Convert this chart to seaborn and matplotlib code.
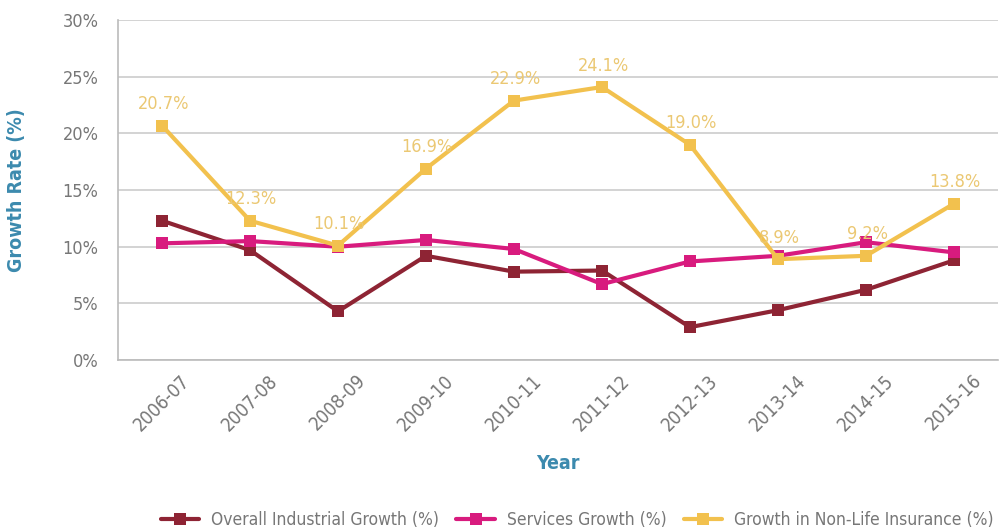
import matplotlib
matplotlib.use("Agg")
import matplotlib.pyplot as plt
import seaborn as sns
import pandas as pd
from matplotlib.ticker import FuncFormatter, MultipleLocator

years = ["2006-07", "2007-08", "2008-09", "2009-10", "2010-11",
         "2011-12", "2012-13", "2013-14", "2014-15", "2015-16"]
industrial = [12.3, 9.7, 4.3, 9.2, 7.8, 7.9, 2.9, 4.4, 6.2, 8.8]
services = [10.3, 10.5, 10.0, 10.6, 9.8, 6.7, 8.7, 9.2, 10.4, 9.5]
insurance = [20.7, 12.3, 10.1, 16.9, 22.9, 24.1, 19.0, 8.9, 9.2, 13.8]
series_names = ["Overall Industrial Growth (%)", "Services Growth (%)",
                "Growth in Non-Life Insurance (%)"]
colors = ["#8E2434", "#D81B7E", "#F2C14E"]

sns.set_theme(style="white")
plt.rcParams["font.family"] = ["DejaVu Sans"]
plt.rcParams["font.stretch"] = "condensed"

rows = []
for name, vals in zip(series_names, [industrial, services, insurance]):
    for y, v in zip(years, vals):
        rows.append({"Year": y, "Growth": v, "Series": name})
df = pd.DataFrame(rows)

fig = plt.figure(figsize=(10.04, 5.31), dpi=100)
ax = fig.add_axes([0.1175, 0.322, 0.8765, 0.640])

sns.lineplot(data=df, x="Year", y="Growth", hue="Series", style="Series",
             markers=["s", "s", "s"], dashes=False, palette=colors,
             linewidth=3, markersize=9, markeredgewidth=0, ax=ax, sort=False)

for i, v in enumerate(insurance):
    ax.annotate(f"{v:.1f}%", (i, v), xytext=(1, 9), textcoords="offset points",
                ha="center", va="bottom", color="#EBC873", fontsize=13,
                fontstretch="condensed")

ax.set_ylim(0, 30)
ax.set_xlim(-0.5, len(years) - 0.5)
ax.yaxis.set_major_locator(MultipleLocator(5))
ax.yaxis.set_major_formatter(FuncFormatter(lambda v, p: f"{v:.0f}%"))
ax.grid(axis="y", color="#CCCCCC", linewidth=1.2)
ax.set_axisbelow(True)
for s in ["top", "right"]:
    ax.spines[s].set_visible(False)
for s in ["left", "bottom"]:
    ax.spines[s].set_color("#BBBBBB")
    ax.spines[s].set_linewidth(1.2)

ax.set_xticks(range(len(years)))
ax.set_xticklabels(years, rotation=45, ha="center")
ax.set_xticks([i - 0.5 for i in range(len(years) + 1)], minor=True)
ax.tick_params(axis="x", which="major", length=0, pad=8, labelsize=13.5, labelcolor="#777777")
ax.tick_params(axis="x", which="minor", length=8, color="#BBBBBB", width=1.2, direction="out")
ax.tick_params(axis="y", length=8, color="#BBBBBB", width=1.2, direction="out",
               labelsize=13, labelcolor="#777777", pad=6)

ax.set_xlabel("Year", color="#3C8AAE", fontsize=14, fontweight="bold", labelpad=14)
ax.set_ylabel("Growth Rate (%)", color="#3C8AAE", fontsize=14, fontweight="bold", labelpad=26)

handles, labels = ax.get_legend_handles_labels()
ax.legend(handles, labels, loc="center", bbox_to_anchor=(0.575, 0.02),
          bbox_transform=fig.transFigure, ncol=3, frameon=False, fontsize=12.5,
          labelcolor="#777777", handlelength=2.2, columnspacing=1.0, handletextpad=0.7)

fig.savefig("out.png", dpi=100)
